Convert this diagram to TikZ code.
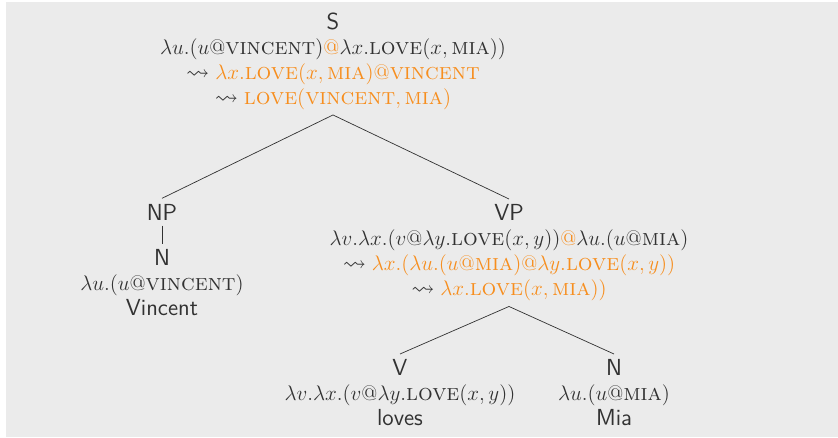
\documentclass[tikz,border=0pt]{standalone}
\usepackage{amsmath, amssymb}
\usepackage{tikz}
\usetikzlibrary{calc, positioning}
\usepackage{xcolor}
\definecolor{slidegray}{RGB}{235,235,235}
\definecolor{textgray}{RGB}{50,50,50}
\definecolor{hl}{RGB}{247,142,30}
\newcommand{\Love}{\textsc{love}}
\newcommand{\Vincent}{\textsc{vincent}}
\newcommand{\Mia}{\textsc{mia}}
\newcommand{\Hl}[1]{\textcolor{hl}{#1}}

\begin{document}
\begin{tikzpicture}[font=\fontsize{13.2}{14.2}\selectfont, color=textgray,
    sem/.style={align=center, inner sep=3pt},
    cat/.style={font=\fontsize{13.2}{14.2}\selectfont\sffamily, inner sep=3pt}]
        % --- Slide background ---
        \useasboundingbox (0,0) rectangle (16.76,8.74);
        \fill[slidegray] (0.12,0) rectangle (16.76,8.70);

        % --- Root S ---
        \node[sem, anchor=north] (s) at (6.66,8.60)
          {\textsf{S}\\
           $\lambda u.(u@\Vincent)\Hl{@}\lambda x.\Love(x,\Mia))$\\
           $\leadsto \Hl{\lambda x.\Love(x,\Mia)@\Vincent}$\\
           $\leadsto \Hl{\Love(\Vincent,\Mia)}$};

        % --- Subject NP ---
        \node[cat] (np) at (3.24,4.50) {NP};
        \node[sem, anchor=north] (n1) at (3.24,3.86)
          {\textsf{N}\\
           $\lambda u.(u@\Vincent)$\\
           \textsf{Vincent}};

        % --- VP ---
        \node[sem, anchor=north] (vp) at (10.18,4.76)
          {\textsf{VP}\\
           $\lambda v.\lambda x.(v@\lambda y.\Love(x,y))\Hl{@}\lambda u.(u@\Mia)$\\
           $\leadsto \Hl{\lambda x.(\lambda u.(u@\Mia)@\lambda y.\Love(x,y))}$\\
           $\leadsto \Hl{\lambda x.\Love(x,\Mia))}$};

        % --- Leaves ---
        \node[sem, anchor=north] (v) at (8.00,1.66)
          {\textsf{V}\\
           $\lambda v.\lambda x.(v@\lambda y.\Love(x,y))$\\
           \textsf{loves}};
        \node[sem, anchor=north] (n2) at (12.28,1.66)
          {\textsf{N}\\
           $\lambda u.(u@\Mia)$\\
           \textsf{Mia}};

        % --- Branches ---
        \draw[thin] (s.south) -- (np.north);
        \draw[thin] (s.south) -- (vp.north);
        \draw[thin] (np.south) -- (n1.north);
        \draw[thin] (vp.south) -- (v.north);
        \draw[thin] (vp.south) -- (n2.north);
      \end{tikzpicture}
\end{document}
